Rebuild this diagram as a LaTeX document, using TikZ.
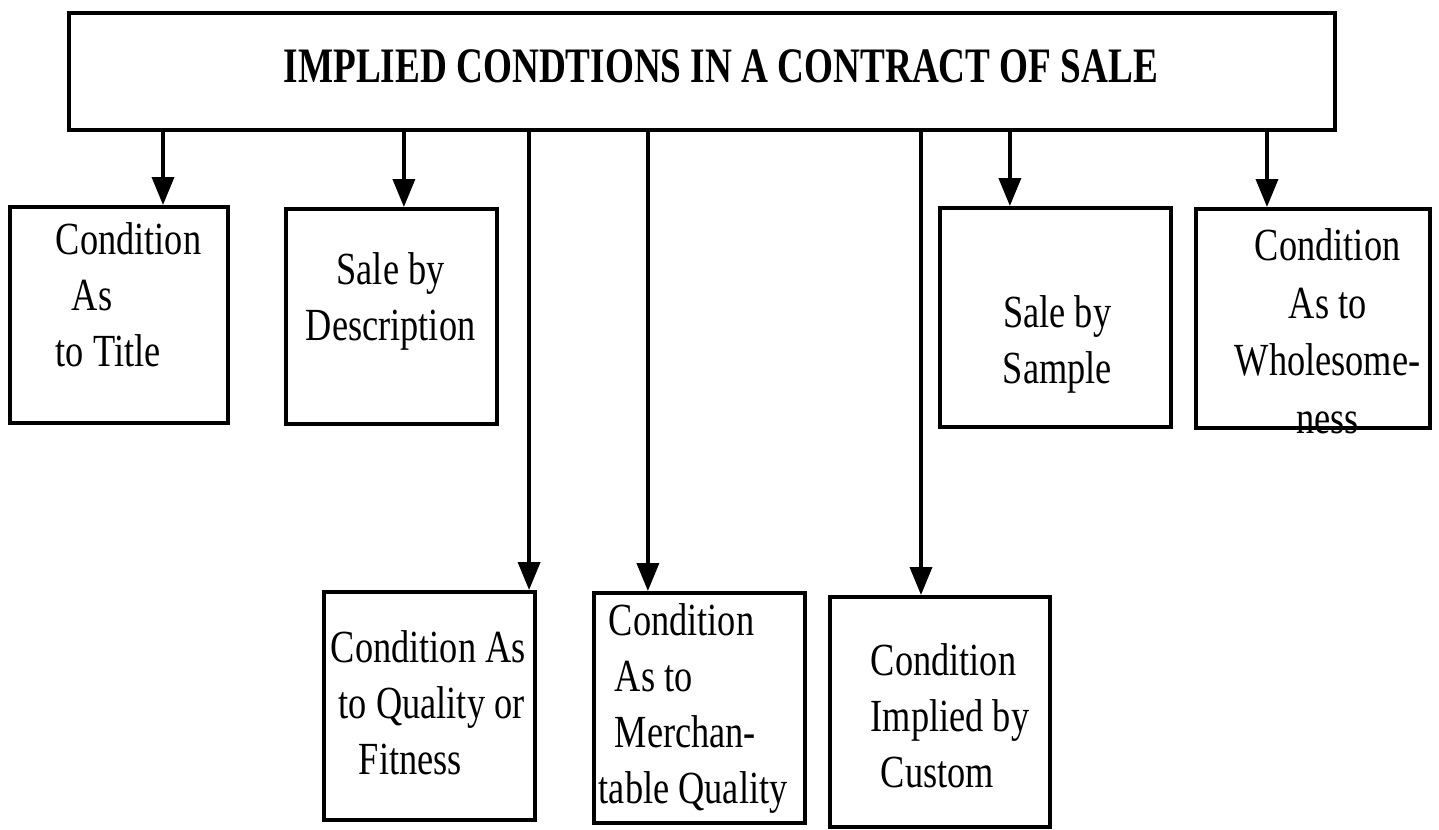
\documentclass[tikz,border=0pt]{standalone}
\usepackage{fontspec}
\setmainfont{Liberation Serif}[FakeStretch=0.79]
\newfontfamily\headfont{Liberation Serif}[FakeStretch=0.75]
\usetikzlibrary{arrows.meta}
\tikzset{>={Triangle[width=5.5pt,length=7pt]}}
\tikzset{%
    cbox/.style={draw,line width=1pt,inner sep=0pt},
    ctext/.style={anchor=north west,inner sep=0pt,font=\fontsize{11.5}{14}\selectfont},
    link/.style={->,line width=0.9pt}
}

\begin{document}
\begin{tikzpicture}[x=0.25pt,y=-0.25pt]
\useasboundingbox (0,0) rectangle (1439,829);
\node[cbox,minimum width=316.5pt,minimum height=29.25pt] (top) at (702,71.5) {};
\node[anchor=north west,inner sep=0pt,font=\fontsize{12.4}{14}\selectfont\headfont\bfseries] (head) at (283,49) {IMPLIED CONDTIONS IN A CONTRACT OF SALE};
% first row
\node[cbox,minimum width=54.5pt,minimum height=54pt] (asTitle) at (119,315) {};
\node[cbox,minimum width=52.75pt,minimum height=53.75pt] (byDesc) at (391.5,316.5) {};
\node[cbox,minimum width=57.75pt,minimum height=54.75pt] (bySample) at (1055.5,317.5) {};
\node[cbox,minimum width=58.5pt,minimum height=54.75pt] (asWhole) at (1313,318.5) {};
% second row
\node[cbox,minimum width=52.75pt,minimum height=57pt] (asQuality) at (429.5,706) {};
\node[cbox,minimum width=52.75pt,minimum height=57.5pt] (asMerch) at (699.5,708) {};
\node[cbox,minimum width=55pt,minimum height=57.5pt] (byCustom) at (940,712) {};
% texts
\node[ctext,align=left] (asTitleText) at (55,222) {Condition\\\hspace{4pt}As\\to Title};
\node[ctext,align=center] (byDescText) at (305,252) {Sale by\\Description};
\node[ctext,align=center] (bySampleText) at (1002,295) {Sale by\\Sample};
\node[ctext,align=center,font=\fontsize{11.5}{14.4}\selectfont] (asWholeText) at (1234,228) {Condition\\As to\\Wholesome-\\ness};
\node[ctext,align=left] (asQualityText) at (330,630) {Condition As\\\hspace{2pt}to Quality or\\\hspace{7pt}Fitness};
\node[ctext,align=left] (asMerchText) at (598,603) {\hspace{2.5pt}Condition\\\hspace{4pt}As to\\\hspace{4pt}Merchan-\\table Quality};
\node[ctext,align=left] (byCustomText) at (870,643) {Condition\\Implied by\\\hspace{2.5pt}Custom};
% arrows
\coordinate (t1) at ([xshift=11pt]asTitle.north);
\coordinate (t2) at ([xshift=3.1pt]byDesc.north);
\coordinate (t3) at ([xshift=24.9pt]asQuality.north);
\coordinate (t4) at ([xshift=-12.9pt]asMerch.north);
\coordinate (t5) at ([xshift=-4.75pt]byCustom.north);
\coordinate (t6) at ([xshift=-11.4pt]bySample.north);
\coordinate (t7) at ([xshift=-11.5pt]asWhole.north);
\draw[link] (top.south -| t1) -- (t1);
\draw[link] (top.south -| t2) -- (t2);
\draw[link] (top.south -| t3) -- (t3);
\draw[link] (top.south -| t4) -- (t4);
\draw[link] (top.south -| t5) -- (t5);
\draw[link] (top.south -| t6) -- (t6);
\draw[link] (top.south -| t7) -- (t7);
\end{tikzpicture}
\end{document}
